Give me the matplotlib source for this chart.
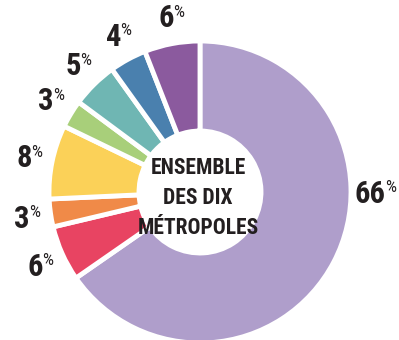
import os
import numpy as np
import matplotlib
matplotlib.use("Agg")
import matplotlib.pyplot as plt
from matplotlib import font_manager

# Share of each category, clockwise from 12 o'clock
values = [66, 6, 3, 8, 3, 5, 4, 6]
labels = ["66", "6", "3", "8", "3", "5", "4", "6"]
colors = ["#AF9ECB", "#E84462", "#F08A48", "#FBD158",
          "#A8CF7A", "#6FB6B3", "#4A80AE", "#8B5A9E"]
center_text = ["ENSEMBLE", "DES DIX", "MÉTROPOLES"]

INK = "#231F20"


def find_condensed(bold=True):
    """Looks for the narrowest font installed, falls back to DejaVu Sans"""
    prefs = ["LiberationSansNarrow-Bold", "RobotoCondensed-Bold", "OpenSans_Condensed-Bold",
             "OpenSansCondensed-Bold", "DejaVuSansCondensed-Bold", "NotoSans-CondensedBold"]
    if not bold:
        prefs = [p.replace("-Bold", "-Regular").replace("-CondensedBold", "-Condensed")
                 for p in prefs] + ["DejaVuSansCondensed"]
    files = {os.path.splitext(os.path.basename(f.fname))[0]: f.fname
             for f in font_manager.fontManager.ttflist}
    for p in prefs:
        if p in files:
            return font_manager.FontProperties(fname=files[p])
    return font_manager.FontProperties(family="DejaVu Sans", stretch="condensed",
                                       weight="bold" if bold else "normal")


FP_BOLD = find_condensed(True)
FP_REG = find_condensed(False)

W, H = 399, 340
fig = plt.figure(figsize=(W / 100, H / 100), dpi=100)
ax = fig.add_axes([0, 0, 1, 1])

cx, cy = 200, 148
r_out, r_in = 151, 61

wedges, _ = ax.pie(values, colors=colors, startangle=90, counterclock=False,
                   center=(cx, cy), radius=r_out, frame=True,
                   wedgeprops=dict(width=r_out - r_in, edgecolor="white", linewidth=3.5))
ax.set_xlim(0, W)
ax.set_ylim(0, H)
ax.set_aspect("equal")
ax.axis("off")

# Percentage labels around the ring
for i, (w, lab) in enumerate(zip(wedges, labels)):
    mid = 0.5 * (w.theta1 + w.theta2)
    r_lab = 179
    if i == 0:
        mid, r_lab = 0, 172
    x = cx + r_lab * np.cos(np.radians(mid))
    y = cy + r_lab * np.sin(np.radians(mid))
    half_w = 6.9 * len(lab)
    num = ax.text(x + half_w, y - 10.8, lab, ha="right", va="baseline",
                  fontproperties=FP_BOLD, fontsize=22, color=INK)
    # small % sign, top aligned with the digits, just right of the number
    ax.annotate("%", xy=(1, y + 11.5), xycoords=(num, "data"), xytext=(-0.6, 0),
                textcoords="offset points", ha="left", va="top",
                fontproperties=FP_REG, fontsize=12.5, color=INK)

# Centre text
for line, yb in zip(center_text, [166.5, 136.5, 105.5]):
    ax.text(198, yb, line, ha="center", va="baseline",
            fontproperties=FP_BOLD, fontsize=15.5, color=INK)

fig.savefig("out.png", dpi=100)
